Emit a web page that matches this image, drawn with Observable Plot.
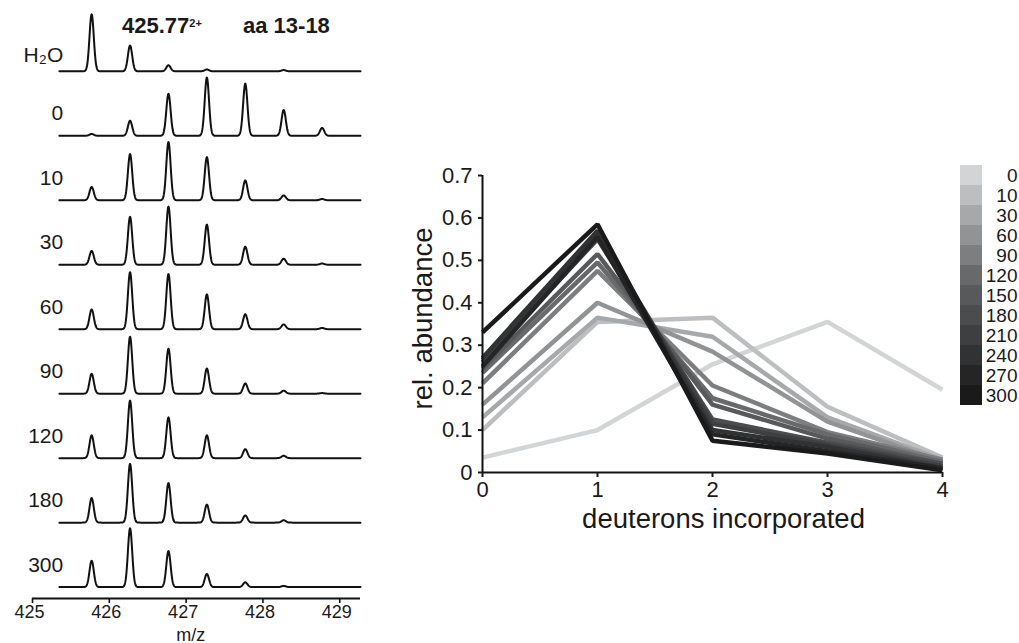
<!DOCTYPE html>
<html><head><meta charset="utf-8">
<script src="https://cdn.jsdelivr.net/npm/d3@7"></script>
<script src="https://cdn.jsdelivr.net/npm/@observablehq/plot@0.6"></script>
<style>
body{margin:0;background:#fff;width:1019px;height:643px;overflow:hidden;position:relative;font-family:"Liberation Sans",Arial,Helvetica,sans-serif;color:#1a1a1a}
.abs{position:absolute}
.ttl{font-weight:bold;font-size:22px;line-height:22px;white-space:nowrap}
</style></head><body>
<div id="left" class="abs" style="left:0;top:0"></div>
<div id="right" class="abs" style="left:400px;top:150px"></div>
<div id="legend" class="abs" style="left:950px;top:160px"></div>
<div class="abs ttl" style="left:122px;top:15px">425.77<sup style="font-size:11px;position:relative;top:-3px;vertical-align:top">2+</sup></div>
<div class="abs ttl" style="left:243px;top:15px">aa 13-18</div>
<script>
// ---------- left panel: mass spectra ----------
const mzPeaks = [425.77, 426.27, 426.77, 427.27, 427.77, 428.27, 428.77];
const spectrumLabels = ["H₂O", "0", "10", "30", "60", "90", "120", "180", "300"];
// relative peak heights (100 = tallest peak height in the stack)
const peaksH2O = [95, 43, 10, 3, 0, 2, 0];
const peaks0   = [3, 25, 70, 97, 87, 43, 13];
const peaks10  = [22, 77, 97, 72, 33, 8, 2];
const peaks30  = [23, 80, 97, 67, 30, 10, 2];
const peaks60  = [33, 95, 92, 58, 25, 8, 2];
const peaks90  = [33, 95, 75, 42, 17, 5, 1];
const peaks120 = [38, 96, 68, 38, 15, 4, 0];
const peaks180 = [41, 98, 66, 30, 12, 4, 0];
const peaks300 = [44, 98, 60, 22, 8, 2, 0];
const mzTicks = [425, 426, 427, 428, 429];

// ---------- right panel: deuteron distribution ----------
const deuterons = [0, 1, 2, 3, 4];
const times = [0, 10, 30, 60, 90, 120, 150, 180, 210, 240, 270, 300];
const abund0   = [0.035, 0.10, 0.255, 0.355, 0.195];
const abund10  = [0.10, 0.355, 0.365, 0.155, 0.035];
const abund30  = [0.13, 0.365, 0.32, 0.13, 0.03];
const abund60  = [0.16, 0.40, 0.285, 0.12, 0.025];
const abund90  = [0.21, 0.475, 0.205, 0.095, 0.03];
const abund120 = [0.235, 0.495, 0.175, 0.09, 0.025];
const abund150 = [0.245, 0.515, 0.16, 0.08, 0.02];
const abund180 = [0.26, 0.55, 0.125, 0.07, 0.02];
const abund210 = [0.265, 0.565, 0.115, 0.065, 0.015];
const abund240 = [0.27, 0.57, 0.10, 0.06, 0.01];
const abund270 = [0.25, 0.555, 0.09, 0.05, 0.01];
const abund300 = [0.33, 0.585, 0.075, 0.045, 0.005];
const yTicks = [0, 0.1, 0.2, 0.3, 0.4, 0.5, 0.6, 0.7];
const grays = ["#d3d4d6","#bdbec0","#a7a8aa","#929395","#7d7e80","#68696b","#58595b","#4b4c4e","#3e3f41","#313233","#252526","#1a1a1a"];

const FONT = "'Liberation Sans', Arial, Helvetica, sans-serif";

// build spectrum profiles from the peak lists
const spectra = [peaksH2O, peaks0, peaks10, peaks30, peaks60, peaks90, peaks120, peaks180, peaks300];
const gap = 1.075, sigma = 0.028, mzStart = 425.35, mzEnd = 429.27, step = 0.004;
const profile = [];
spectra.forEach((h, i) => {
  const base = (spectra.length - 1 - i) * gap;
  const n = Math.round((mzEnd - mzStart) / step);
  for (let k = 0; k <= n; k++) {
    const m = mzStart + k * step;
    let v = 0;
    mzPeaks.forEach((c, j) => { v += h[j] / 100 * Math.exp(-((m - c) ** 2) / (2 * sigma * sigma)); });
    profile.push({mz: m, y: base + v, s: spectrumLabels[i]});
  }
});
const labelData = spectrumLabels.map((s, i) => ({s, y: (spectra.length - 1 - i) * gap + (i === 0 ? 0.26 : 0.37)}));
const axisY0 = -0.19, tickLen = 5 / 60;

const left = Plot.plot({
  width: 370, height: 643, marginLeft: 32, marginRight: 10, marginTop: 0, marginBottom: 45,
  x: {domain: [425, 429.27]},
  y: {domain: [axisY0, 9.78], axis: null},
  style: {fontFamily: FONT, color: "#1a1a1a", background: "transparent", overflow: "visible"},
  marks: [
    Plot.line(profile, {x: "mz", y: "y", z: "s", stroke: "#111", strokeWidth: 2}),
    Plot.ruleY([axisY0], {x1: 425, x2: 429.27, strokeWidth: 2, stroke: "#111"}),
    Plot.ruleX(mzTicks, {y1: axisY0, y2: axisY0 - tickLen, strokeWidth: 1.6, stroke: "#111"}),
    Plot.axisX(mzTicks, {tickSize: 5, tickPadding: 2, fontSize: 18, dx: -3, strokeOpacity: 0, label: null}),
    Plot.text(labelData, {x: 425.40, y: "y", text: "s", textAnchor: "end", fontSize: 21, fill: "#1a1a1a"}),
    Plot.text(["m/z"], {x: 427.06, y: -0.80, fontSize: 18, fill: "#1a1a1a"})
  ]
});
document.getElementById("left").appendChild(left);

// right line chart
const series = [abund0, abund10, abund30, abund60, abund90, abund120, abund150, abund180, abund210, abund240, abund270, abund300];
const lineData = times.flatMap((t, i) => deuterons.map((d, j) => ({d, v: series[i][j], t})));

const right = Plot.plot({
  width: 560, height: 400, marginLeft: 82, marginRight: 18, marginTop: 25, marginBottom: 78,
  x: {domain: [0, 4]},
  y: {domain: [0, 0.7]},
  color: {type: "ordinal", domain: times, range: grays},
  style: {fontFamily: FONT, color: "#1a1a1a", background: "transparent", overflow: "visible"},
  marks: [
    Plot.line(lineData, {x: "d", y: "v", z: "t", stroke: "t", strokeWidth: 4.5, strokeLinejoin: "miter", strokeLinecap: "butt"}),
    Plot.ruleX([0], {y1: 0, y2: 0.7, strokeWidth: 2, stroke: "#111"}),
    Plot.ruleY([0], {x1: 0, x2: 4, strokeWidth: 2, stroke: "#111"}),
    Plot.axisY(yTicks, {tickSize: 4, tickPadding: 6, fontSize: 22, strokeWidth: 2, label: null, tickFormat: d => d === 0 ? "0" : d.toFixed(1)}),
    Plot.axisX(deuterons, {tickSize: 5, tickPadding: 4, fontSize: 22, strokeWidth: 2, label: null, tickFormat: d => String(d)}),
    Plot.text(["deuterons incorporated"], {x: 2.096, y: -0.111, fontSize: 27.5, fill: "#1a1a1a"}),
    Plot.text(["rel. abundance"], {x: -0.513, y: 0.363, rotate: -90, fontSize: 27.5, fill: "#1a1a1a"})
  ]
});
document.getElementById("right").appendChild(right);

// legend
const legend = Plot.plot({
  width: 69, height: 250, marginLeft: 10, marginRight: 37, marginTop: 5, marginBottom: 5,
  y: {type: "band", domain: times, padding: 0, axis: null},
  color: {type: "ordinal", domain: times, range: grays},
  style: {fontFamily: FONT, color: "#1a1a1a", background: "transparent", overflow: "visible"},
  marks: [
    Plot.cell(times, {y: d => d, fill: d => d}),
    Plot.text(times, {y: d => d, text: d => String(d), frameAnchor: "right", dx: 35, textAnchor: "end", fontSize: 19, fill: "#1a1a1a"})
  ]
});
document.getElementById("legend").appendChild(legend);
</script>
</body></html>
